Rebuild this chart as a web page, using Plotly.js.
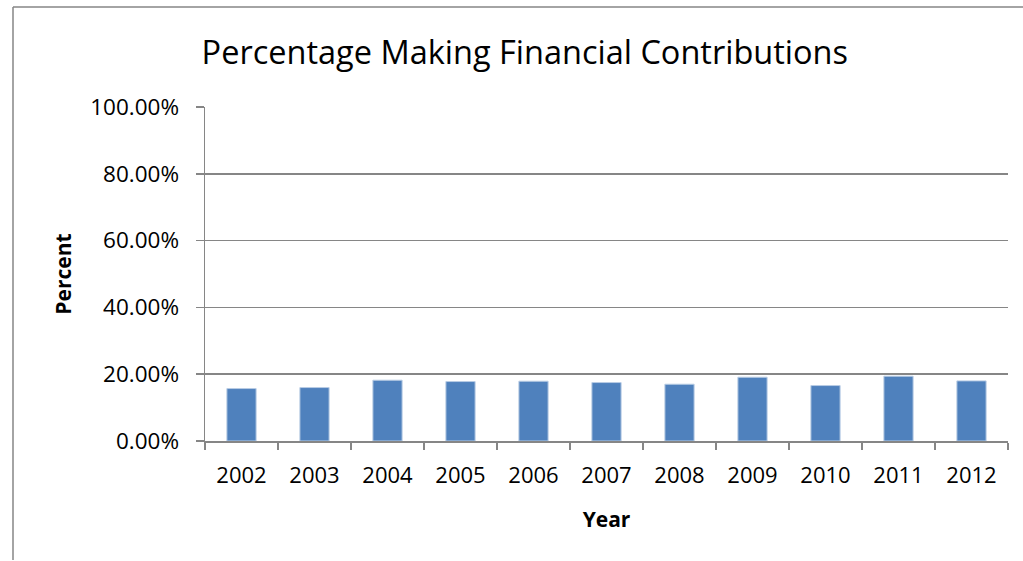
<!DOCTYPE html>
<html>
<head>
<meta charset="utf-8">
<script src="https://cdn.plot.ly/plotly-3.0.1.min.js"></script>
<style>html,body{margin:0;padding:0;background:#fff;}#chart{width:1023px;height:561px;}</style>
</head>
<body>
<div id="chart"></div>
<script>
const years = ["2002","2003","2004","2005","2006","2007","2008","2009","2010","2011","2012"];
const percentContributing = [0.157, 0.160, 0.182, 0.178, 0.179, 0.175, 0.170, 0.191, 0.166, 0.194, 0.180];
const yTickValues = [0, 0.2, 0.4, 0.6, 0.8, 1.0];

const FONT = "'Open Sans', Carlito, Calibri, sans-serif";
const GRID = "#868686";

const trace = {
  type: "bar",
  x: years,
  y: percentContributing,
  marker: {color: "#4F81BD", line: {color: "#b8cce4", width: 1}},
  hoverinfo: "x+y"
};

const L = 205, R = 1008, T = 107, B = 441;
const pw = R - L, ph = B - T;
const px = v => (v - L) / pw;
const py = v => (B - v) / ph;

const layout = {
  width: 1023, height: 561,
  margin: {l: L, r: 1023 - R, t: T, b: 561 - B, pad: 0},
  paper_bgcolor: "#fff", plot_bgcolor: "#fff",
  font: {family: FONT, color: "#000", size: 22},
  showlegend: false,
  bargap: 0.6,
  title: {text: "Percentage Making Financial Contributions", font: {family: FONT, size: 32.5, color: "#000"},
          x: 0.513, xanchor: "center", y: 1 - 53/561, yanchor: "middle"},
  xaxis: {
    type: "category",
    showline: true, linecolor: GRID, linewidth: 1.5,
    ticks: "outside", tickson: "boundaries", ticklen: 7, tickcolor: GRID, tickwidth: 1.5,
    tickfont: {family: FONT, size: 22, color: "#000"},
    ticklabelstandoff: 14,
    showgrid: false,
    title: {text: "<b>Year</b>", font: {family: FONT, size: 21, color: "#000"}, standoff: 24}
  },
  yaxis: {
    range: [0, 1], tickvals: yTickValues, tickformat: ".2%",
    showline: true, linecolor: GRID, linewidth: 1.5,
    ticks: "outside", ticklen: 8, tickcolor: GRID, tickwidth: 1.5,
    showgrid: true, gridcolor: GRID, gridwidth: 1.5,
    zeroline: false,
    tickfont: {family: FONT, size: 22.5, color: "#000"},
    ticklabelstandoff: 12,
    title: {text: "<b>Percent</b>", font: {family: FONT, size: 21, color: "#000"}, standoff: 13}
  },
  shapes: [
    {type: "line", xref: "paper", yref: "paper", x0: px(13), x1: px(1023), y0: py(7), y1: py(7), line: {color: GRID, width: 1.5}},
    {type: "line", xref: "paper", yref: "paper", x0: px(13), x1: px(13), y0: py(7), y1: py(560), line: {color: GRID, width: 1.5}}
  ]
};

Plotly.newPlot("chart", [trace], layout, {displayModeBar: false, staticPlot: true});
</script>
</body>
</html>
